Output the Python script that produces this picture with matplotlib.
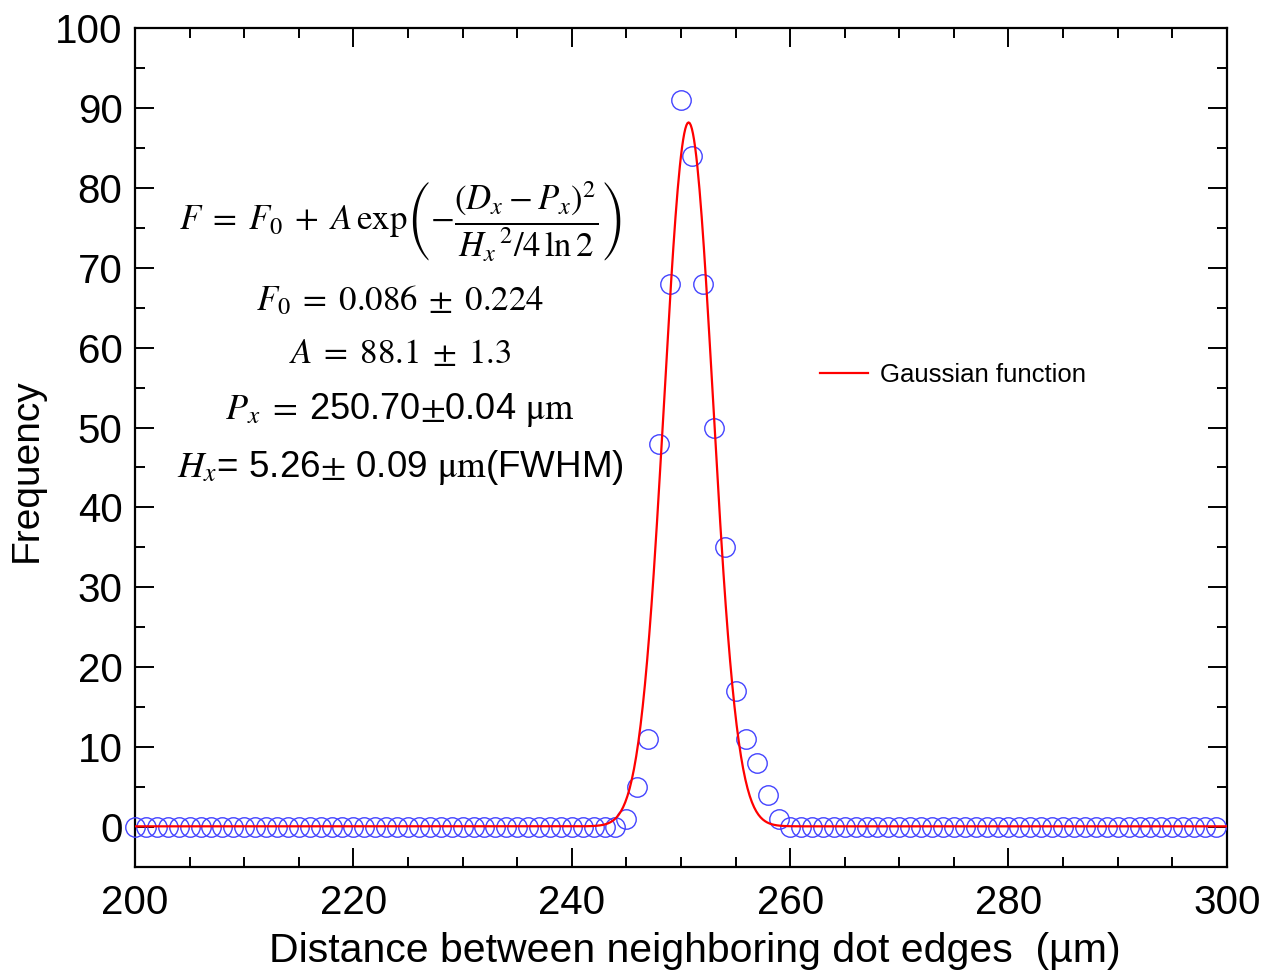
import matplotlib
matplotlib.use("Agg")
import matplotlib.pyplot as plt
import numpy as np

plt.rcParams['font.family'] = ['Liberation Sans', 'DejaVu Sans']
plt.rcParams['mathtext.fontset'] = 'stix'

# histogram of measured distances (um) -> counts
distance = list(range(200, 300))
peak_x = [245, 246, 247, 248, 249, 250, 251, 252, 253, 254, 255, 256, 257, 258, 259]
peak_y = [1, 5, 11, 48, 68, 91, 84, 68, 50, 35, 17, 11, 8, 4, 1]
counts = [peak_y[peak_x.index(d)] if d in peak_x else 0 for d in distance]

# fitted gaussian parameters
F0 = 0.086
A = 88.1
Px = 250.70
Hx = 5.26

xfit = np.linspace(200, 300, 1001)
yfit = F0 + A * np.exp(-(xfit - Px) ** 2 / (Hx ** 2 / (4 * np.log(2))))

fig = plt.figure(figsize=(12.74, 9.76), dpi=100)
ax = fig.add_axes([0.106, 0.1117, 0.857, 0.8596])

ax.plot(distance, counts, 'o', mfc='none', mec='#4444ff', ms=14, mew=1.0,
        clip_on=False, zorder=3)
ax.plot(xfit, yfit, color='red', lw=1.6, label='Gaussian function', zorder=4)

ax.set_xlim(200, 300)
ax.set_ylim(-5, 100)
ax.set_xticks(np.arange(200, 301, 20))
ax.set_xticks(np.arange(200, 301, 5), minor=True)
ax.set_yticks(np.arange(0, 101, 10))
ax.set_yticks(np.arange(-5, 101, 5), minor=True)

for s in ax.spines.values():
    s.set_linewidth(1.6)
ax.tick_params(which='both', direction='in', top=True, right=True, width=1.4)
ax.tick_params(which='major', length=14, labelsize=29)
ax.tick_params(which='minor', length=7)
ax.tick_params(axis='y', pad=9)
ax.tick_params(axis='x', pad=12)

ax.set_xlabel('Distance between neighboring dot edges  (\u00b5m)', fontsize=29.5)
ax.set_ylabel('Frequency', fontsize=28)
ax.xaxis.set_label_coords(0.513, -0.078)
ax.yaxis.set_label_coords(-0.083, 0.473)

ax.legend(loc='center left', bbox_to_anchor=(0.627, 0.586), frameon=False,
          fontsize=18.5, handlelength=1.87, handletextpad=0.47,
          borderpad=0, borderaxespad=0)

tx = 0.2427
ax.text(tx, 0.769,
        r'$F\;=\;F_0\;+\;A\,\mathrm{exp}\left(-\dfrac{(D_x-P_x)^2}{{H_x}^{\,2}/4\,\mathrm{ln}\,2}\right)$',
        transform=ax.transAxes, ha='center', va='center', fontsize=25)
ax.text(tx, 0.676, r'$F_0\;=\;0.086\;\pm\;0.224$',
        transform=ax.transAxes, ha='center', va='center', fontsize=25)
ax.text(tx, 0.6126, r'$A\;=\;88.1\;\pm\;1.3$',
        transform=ax.transAxes, ha='center', va='center', fontsize=25)
ax.text(tx, 0.5447, r'$P_x\;=\;$250.70$\pm$0.04 $\mathrm{\mu m}$',
        transform=ax.transAxes, ha='center', va='center', fontsize=26)
ax.text(tx, 0.4756, r'$H_x$= 5.26$\pm$ 0.09 $\mathrm{\mu m}$(FWHM)',
        transform=ax.transAxes, ha='center', va='center', fontsize=26.5)

fig.savefig('out.png', dpi=100)
